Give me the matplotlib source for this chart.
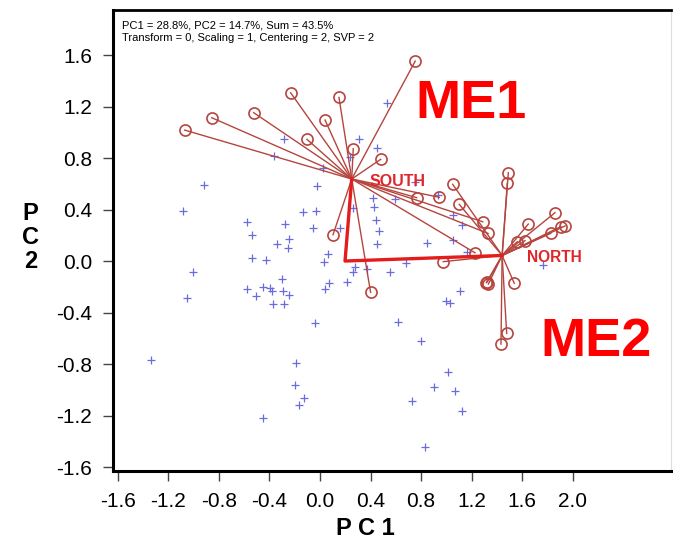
import numpy as np
import matplotlib
matplotlib.use("Agg")
import matplotlib.pyplot as plt
import matplotlib.ticker as ticker

plt.rcParams['font.family'] = ['Liberation Sans', 'DejaVu Sans']

# sample scores (blue crosses)
score_x = [-0.915, -1.081, -0.021, -0.137, -0.032, -0.577, -0.277, -0.053, -0.535, -0.245,
           -0.338, -0.251, -0.535, -0.427, 0.158, 0.417, 0.427, 0.443, 0.469, 0.453,
           0.263, 0.066, 0.034, 0.277, 0.263, 0.369, 0.553, 0.216, 0.074, 0.042,
           -1.006, -1.049, -0.298, -0.577, -0.448, -0.395, -0.377, -0.295, -0.508, -0.245,
           -0.369, -0.287, -0.037, 0.614, -1.338, -0.192, -0.200, -0.129, -0.164, -0.453,
           0.527, 0.311, 0.448, -0.285, -0.361, 0.237, 0.593, 0.843, 0.680, 1.107,
           0.994, 1.028, 0.796, 1.012, 0.901, 1.065, 0.727, 1.125, 0.832, 0.751,
           1.051, 1.120, 1.051, 1.765, 0.026, 0.935, 1.160]
score_y = [0.590, 0.388, 0.583, 0.378, 0.388, 0.305, 0.285, 0.254, 0.200, 0.171,
           0.130, 0.103, 0.023, 0.008, 0.254, 0.492, 0.422, 0.318, 0.235, 0.132,
           0.409, 0.052, -0.010, -0.049, -0.083, -0.064, -0.083, -0.161, -0.169, -0.220,
           -0.083, -0.290, -0.142, -0.215, -0.200, -0.207, -0.235, -0.235, -0.270, -0.264,
           -0.334, -0.334, -0.479, -0.476, -0.769, -0.790, -0.965, -1.064, -1.118, -1.219,
           1.225, 0.948, 0.874, 0.951, 0.818, 0.808, 0.479, 0.137, -0.013, -0.231,
           -0.311, -0.324, -0.621, -0.862, -0.979, -1.007, -1.087, -1.167, -1.442, 0.616,
           0.357, 0.280, 0.163, -0.031, 0.720, 0.513, 0.072]

# group centres and origin of the thick arms
origin = (0.198, 0.0)
south = (0.251, 0.637)
north = (1.440, 0.043)

# variable end points hanging from each centre
south_x = [0.753, -0.232, 0.150, -0.856, -0.524, 0.040, -1.070, -0.103, 0.263, 0.480,
           0.103, 0.400, 0.764, 0.943, 1.286, 1.329, 1.225]
south_y = [1.553, 1.307, 1.271, 1.113, 1.152, 1.095, 1.017, 0.945, 0.872, 0.790,
           0.204, -0.243, 0.492, 0.495, 0.305, 0.214, 0.064]
north_x = [1.489, 1.481, 1.858, 1.647, 1.937, 1.905, 1.824, 1.621, 1.560, 1.536,
           1.323, 1.331, 1.315, 1.476, 1.431, 0.975, 1.049, 1.101]
north_y = [0.686, 0.603, 0.375, 0.287, 0.272, 0.268, 0.215, 0.158, 0.150, -0.173,
           -0.161, -0.179, -0.168, -0.562, -0.645, -0.005, 0.596, 0.440]

xticks = [-1.6, -1.2, -0.8, -0.4, 0.0, 0.4, 0.8, 1.2, 1.6, 2.0]
yticks = [-1.6, -1.2, -0.8, -0.4, 0.0, 0.4, 0.8, 1.2, 1.6]

ray_col = '#b5453e'
fig = plt.figure(figsize=(6.73, 5.5), dpi=100)
ax = fig.add_axes([0.168, 0.1436, 0.829, 0.839])

ax.plot(score_x, score_y, '+', color='#6b6be0', ms=6, mew=0.9, zorder=2)

for cx, cy, xs, ys in [(south[0], south[1], south_x, south_y),
                       (north[0], north[1], north_x, north_y)]:
    for px, py in zip(xs, ys):
        ax.plot([cx, px], [cy, py], '-', color=ray_col, lw=1.0, zorder=3)
    ax.plot(xs, ys, 'o', mfc='none', mec=ray_col, ms=8, mew=1.2, zorder=4)

ax.plot([south[0], origin[0], north[0]], [south[1], origin[1], north[1]],
        '-', color='#e41c1c', lw=2.4, zorder=5)

ax.text(0.395, 0.58, 'SOUTH', color='#e0262a', fontsize=11.5, fontweight='bold')
ax.text(1.636, -0.01, 'NORTH', color='#e0262a', fontsize=11.2, fontweight='bold')
ax.text(0.751, 1.11, 'ME1', color='#ff0000', fontsize=39, fontweight='bold')
ax.text(1.739, -0.74, 'ME2', color='#ff0000', fontsize=39, fontweight='bold')

ax.text(0.016, 0.966, 'PC1 = 28.8%, PC2 = 14.7%, Sum = 43.5%', transform=ax.transAxes,
        fontsize=8, va='center')
ax.text(0.016, 0.939, 'Transform = 0, Scaling = 1, Centering = 2, SVP = 2',
        transform=ax.transAxes, fontsize=8, va='center')

ax.set_xlim(-1.636, 2.775)
ax.set_ylim(-1.631, 1.953)
ax.xaxis.set_major_locator(ticker.FixedLocator(xticks))
ax.yaxis.set_major_locator(ticker.FixedLocator(yticks))
ax.xaxis.set_major_formatter(ticker.FormatStrFormatter('%.1f'))
ax.yaxis.set_major_formatter(ticker.FormatStrFormatter('%.1f'))
ax.tick_params(direction='out', length=7, width=1, labelsize=15, pad=8, color='#444444')

ax.spines['left'].set_linewidth(2.2)
ax.spines['bottom'].set_linewidth(2.2)
ax.spines['top'].set_linewidth(2.0)
ax.spines['right'].set_color('#dddddd')
ax.spines['right'].set_linewidth(0.8)

fig.text(0.543, 0.028, 'P C 1', fontsize=17, fontweight='bold', ha='center')
fig.text(0.045, 0.568, 'P\nC\n2', fontsize=17, fontweight='bold', ha='center', va='center',
         linespacing=1.05)

fig.savefig('out.png', dpi=100)
